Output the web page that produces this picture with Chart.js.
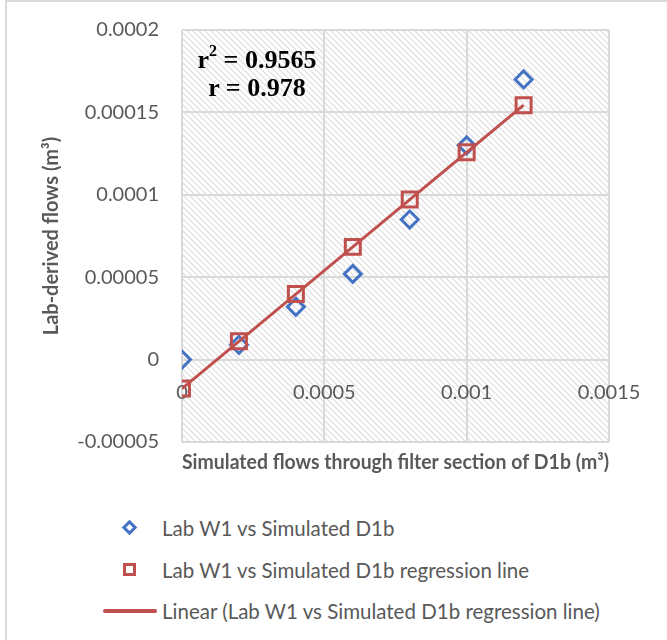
<!DOCTYPE html>
<html>
<head>
<meta charset="utf-8">
<script src="https://cdn.jsdelivr.net/npm/chart.js@4.4.1/dist/chart.umd.min.js"></script>
<style>
  html, body { margin: 0; padding: 0; background: #fff; overflow: hidden; }
  #frame { position: absolute; left: 5px; top: 0; width: 720px; height: 720px; border: 2px solid #d9d9d9; }
  #wrap { position: absolute; left: 0; top: 0; width: 667px; height: 495px; }
  #stats { position: absolute; left: 167px; top: 46px; width: 180px; text-align: center;
    font: bold 26px "Liberation Serif", serif; line-height: 28px; color: #000; }
  #stats sup { font-size: 16px; line-height: 0; position: relative; top: -2px; }
  .item { position: absolute; left: 162px; font: 20.5px Lato, sans-serif; color: #595959; line-height: 26px; white-space: nowrap; }
  .mk { position: absolute; }
  .diamond { width: 5px; height: 5px; border: 3px solid #4472c4; transform: rotate(45deg); }
  .square { width: 7px; height: 7px; border: 3px solid #c0504d; }
  .line { height: 4px; background: #c0504d; border-radius: 2px; }
</style>
</head>
<body>
<div id="frame"></div>
<div id="wrap"><canvas id="chart"></canvas></div>
<div id="stats">r<sup>2</sup> = 0.9565<br>r = 0.978</div>

<span class="mk diamond" style="left:124px; top:522px;"></span>
<div class="item" style="top:515px;">Lab W1 vs Simulated D1b</div>
<span class="mk square" style="left:123px; top:563px;"></span>
<div class="item" style="top:557px;">Lab W1 vs Simulated D1b regression line</div>
<span class="mk line" style="left:103px; top:609px; width:54px;"></span>
<div class="item" style="top:598px;">Linear (Lab W1 vs Simulated D1b regression line)</div>

<script>
// Simulated flows (x) and lab-derived flows (y), m3
const simFlows = [0, 0.0002, 0.0004, 0.0006, 0.0008, 0.001, 0.0012];
const labFlows = [0, 0.000009, 0.000032, 0.000052, 0.000085, 0.00013, 0.00017];
const regressionFlows = [-0.0000176, 0.0000111, 0.0000398, 0.0000684, 0.0000971, 0.0001258, 0.0001544];
const trendX = [0, 0.0012];
const trendY = [-0.0000176, 0.0001544];

const xTicks = [0, 0.0005, 0.001, 0.0015];
const xTickLabels = ['0', '0.0005', '0.001', '0.0015'];
const yTicks = [-0.00005, 0, 0.00005, 0.0001, 0.00015, 0.0002];
const yTickLabels = ['-0.00005', '0', '0.00005', '0.0001', '0.00015', '0.0002'];

const GREY = '#595959';
const GRID = '#d9d9d9';

function toPoints(xs, ys) {
    return xs.map((x, i) => ({ x: x, y: ys[i] }));
}

// diagonal hatch behind the plot area
function makeHatch(ctx) {
    const c = document.createElement('canvas');
    c.width = 6;
    c.height = 6;
    const g = c.getContext('2d');
    g.strokeStyle = '#dcdcdc';
    g.lineWidth = 1.1;
    g.beginPath();
    g.moveTo(-1, -1); g.lineTo(7, 7);
    g.moveTo(5, -1); g.lineTo(7, 1);
    g.moveTo(-1, 5); g.lineTo(1, 7);
    g.stroke();
    return ctx.createPattern(c, 'repeat');
}

const hatchPlugin = {
    id: 'hatch',
    beforeDraw(chart) {
        const { ctx, chartArea: a } = chart;
        ctx.save();
        ctx.fillStyle = makeHatch(ctx);
        ctx.fillRect(a.left, a.top, a.right - a.left, a.bottom - a.top);
        ctx.restore();
    }
};

const tickFont = { family: 'Lato', size: 20 };
const titleFont = { family: 'Lato', size: 20, weight: 'bold' };

new Chart(document.getElementById('chart').getContext('2d'), {
    type: 'scatter',
    data: {
        datasets: [
            {
                label: 'Linear (Lab W1 vs Simulated D1b regression line)',
                data: toPoints(trendX, trendY),
                showLine: true,
                borderColor: '#c0504d',
                borderWidth: 3,
                pointRadius: 0,
                order: 1
            },
            {
                label: 'Lab W1 vs Simulated D1b regression line',
                data: toPoints(simFlows, regressionFlows),
                pointStyle: 'rect',
                pointRadius: 10.6,
                borderColor: '#c0504d',
                backgroundColor: 'rgba(0,0,0,0)',
                borderWidth: 3,
                order: 2
            },
            {
                label: 'Lab W1 vs Simulated D1b',
                data: toPoints(simFlows, labFlows),
                pointStyle: 'rectRot',
                pointRadius: 8.5,
                borderColor: '#4472c4',
                backgroundColor: 'rgba(0,0,0,0)',
                borderWidth: 3,
                order: 3
            }
        ]
    },
    options: {
        responsive: true,
        maintainAspectRatio: false,
        animation: false,
        layout: { padding: { left: 37, right: 58, top: 30, bottom: 16 } },
        plugins: {
            legend: { display: false },
            tooltip: { enabled: false }
        },
        scales: {
            x: {
                type: 'linear',
                position: 'bottom',
                min: 0,
                max: 0.0015,
                afterBuildTicks: s => { s.ticks = xTicks.map(v => ({ value: v })); },
                grid: { color: GRID, lineWidth: 2, drawTicks: false },
                border: { display: false },
                ticks: { display: false },
                title: {
                    display: true,
                    text: 'Simulated flows through filter section of D1b (m³)',
                    color: GREY,
                    font: titleFont,
                    padding: { top: 9, bottom: 4 }
                }
            },
            x2: {
                type: 'linear',
                axis: 'x',
                position: { y: 0 },
                min: 0,
                max: 0.0015,
                afterBuildTicks: s => { s.ticks = xTicks.map(v => ({ value: v })); },
                grid: { display: false, drawTicks: false },
                border: { display: false },
                ticks: {
                    color: GREY,
                    font: tickFont,
                    padding: 21,
                    maxRotation: 0,
                    callback: (v, i) => xTickLabels[i]
                }
            },
            y: {
                type: 'linear',
                min: -0.00005,
                max: 0.0002,
                afterBuildTicks: s => { s.ticks = yTicks.map(v => ({ value: v })); },
                afterFit: s => {
                    s.width = 145;
                    s.paddingTop = 0;
                    s.paddingBottom = 0;
                },
                grid: { color: GRID, lineWidth: 2, drawTicks: false },
                border: { display: false },
                ticks: {
                    color: GREY,
                    font: tickFont,
                    padding: 23,
                    callback: (v, i) => yTickLabels[i]
                },
                title: {
                    display: true,
                    text: 'Lab-derived flows (m³)',
                    color: GREY,
                    font: titleFont,
                    padding: { top: 3, bottom: 4 }
                }
            }
        }
    },
    plugins: [hatchPlugin]
});
</script>
</body>
</html>
